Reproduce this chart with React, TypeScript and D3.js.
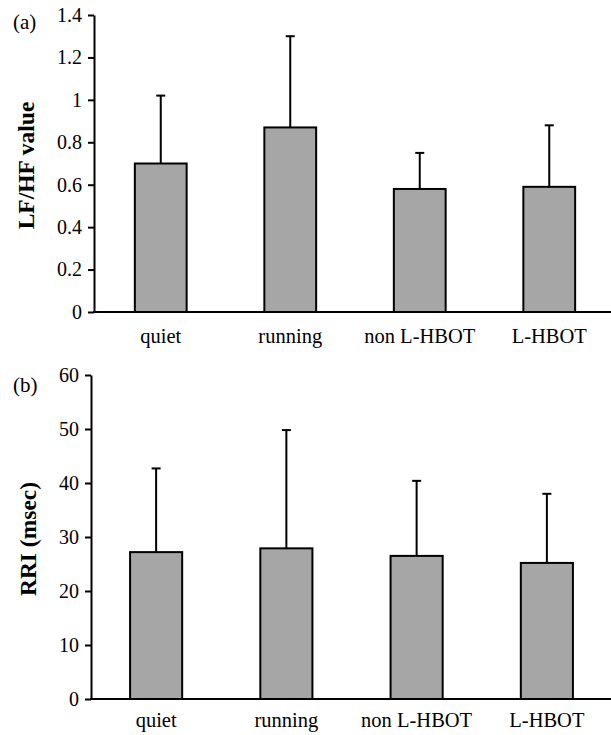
import { useEffect, useRef } from "react";
import * as d3 from "d3";

const categories = ["quiet", "running", "non L-HBOT", "L-HBOT"];

// panel (a)
const lfhfMean = [0.70, 0.87, 0.58, 0.59];
const lfhfSd = [0.32, 0.43, 0.17, 0.29];
const lfhfTicks = [0, 0.2, 0.4, 0.6, 0.8, 1, 1.2, 1.4];

// panel (b)
const rriMean = [27.2, 27.9, 26.5, 25.2];
const rriSd = [15.5, 21.9, 13.9, 12.8];
const rriTicks = [0, 10, 20, 30, 40, 50, 60];

const W = 611;
const H = 735;
const FONT = "\"Liberation Serif\", \"DejaVu Serif\", \"Times New Roman\", serif";

export default function App() {
  const ref = useRef<SVGSVGElement>(null);

  useEffect(() => {
    const svg = d3.select(ref.current);
    svg.selectAll("*").remove();

    const panels = [
      {
        tag: "(a)", tagY: 29, label: "LF/HF value", labelX: 34,
        mean: lfhfMean, sd: lfhfSd, ticks: lfhfTicks,
        axisX: 94, top: 15, bottom: 312, xr: [96, 614], catY: 343
      },
      {
        tag: "(b)", tagY: 392, label: "RRI (msec)", labelX: 36,
        mean: rriMean, sd: rriSd, ticks: rriTicks,
        axisX: 91, top: 375, bottom: 699, xr: [91, 612], catY: 727
      }
    ];

    panels.forEach(p => {
      const g = svg.append("g");
      const yMax = p.ticks[p.ticks.length - 1];

      const x = d3.scaleBand()
        .domain(categories)
        .range(p.xr as [number, number])
        .paddingInner(0.6)
        .paddingOuter(0.3);

      const y = d3.scaleLinear()
        .domain([0, yMax])
        .range([p.bottom, p.top]);

      // bars
      g.selectAll(".bar")
        .data(categories)
        .enter()
        .append("rect")
        .attr("x", d => x(d)!)
        .attr("y", (d, i) => y(p.mean[i]))
        .attr("width", x.bandwidth())
        .attr("height", (d, i) => y(0) - y(p.mean[i]))
        .attr("fill", "#a6a6a6")
        .attr("stroke", "#000")
        .attr("stroke-width", 2);

      // error bars (upper only)
      const cap = 9;
      categories.forEach((c, i) => {
        const cx = x(c)! + x.bandwidth() / 2;
        const y0 = y(p.mean[i]);
        const y1 = y(p.mean[i] + p.sd[i]);
        g.append("line")
          .attr("x1", cx).attr("x2", cx)
          .attr("y1", y0).attr("y2", y1)
          .attr("stroke", "#000").attr("stroke-width", 2);
        g.append("line")
          .attr("x1", cx - cap / 2).attr("x2", cx + cap / 2)
          .attr("y1", y1).attr("y2", y1)
          .attr("stroke", "#000").attr("stroke-width", 2);
      });

      // y axis
      const yAxis = g.append("g")
        .attr("transform", `translate(${p.axisX},0)`)
        .call(d3.axisLeft(y)
          .tickValues(p.ticks)
          .tickFormat(d => String(+(+d).toFixed(1)))
          .tickSize(6)
          .tickPadding(6)
          .tickSizeOuter(0));
      yAxis.attr("font-family", null).attr("font-size", null);
      yAxis.select(".domain").attr("stroke", "#000").attr("stroke-width", 2);
      yAxis.selectAll(".tick line").attr("stroke", "#000").attr("stroke-width", 2);
      yAxis.selectAll(".tick text")
        .style("font-family", FONT)
        .style("font-size", "20px")
        .attr("fill", "#000");

      // x axis line
      g.append("line")
        .attr("x1", p.axisX - 1).attr("x2", W)
        .attr("y1", p.bottom).attr("y2", p.bottom)
        .attr("stroke", "#000").attr("stroke-width", 2);

      // category labels
      g.selectAll(".cat")
        .data(categories)
        .enter()
        .append("text")
        .attr("x", d => x(d)! + x.bandwidth() / 2)
        .attr("y", p.catY)
        .attr("text-anchor", "middle")
        .style("font-family", FONT)
        .style("font-size", "20.5px")
        .text(d => d);

      // y label
      g.append("text")
        .attr("transform", `translate(${p.labelX},${(p.top + p.bottom) / 2 + 2}) rotate(-90)`)
        .attr("text-anchor", "middle")
        .style("font-family", FONT)
        .style("font-weight", "bold")
        .style("font-size", "23.5px")
        .text(p.label);

      // panel tag
      g.append("text")
        .attr("x", 13)
        .attr("y", p.tagY)
        .style("font-family", FONT)
        .style("font-size", "21px")
        .text(p.tag);
    });
  }, []);

  return (
    <svg
      ref={ref}
      width={W}
      height={H}
      style={{ position: "absolute", left: 0, top: 0, background: "#fff" }}
    />
  );
}
